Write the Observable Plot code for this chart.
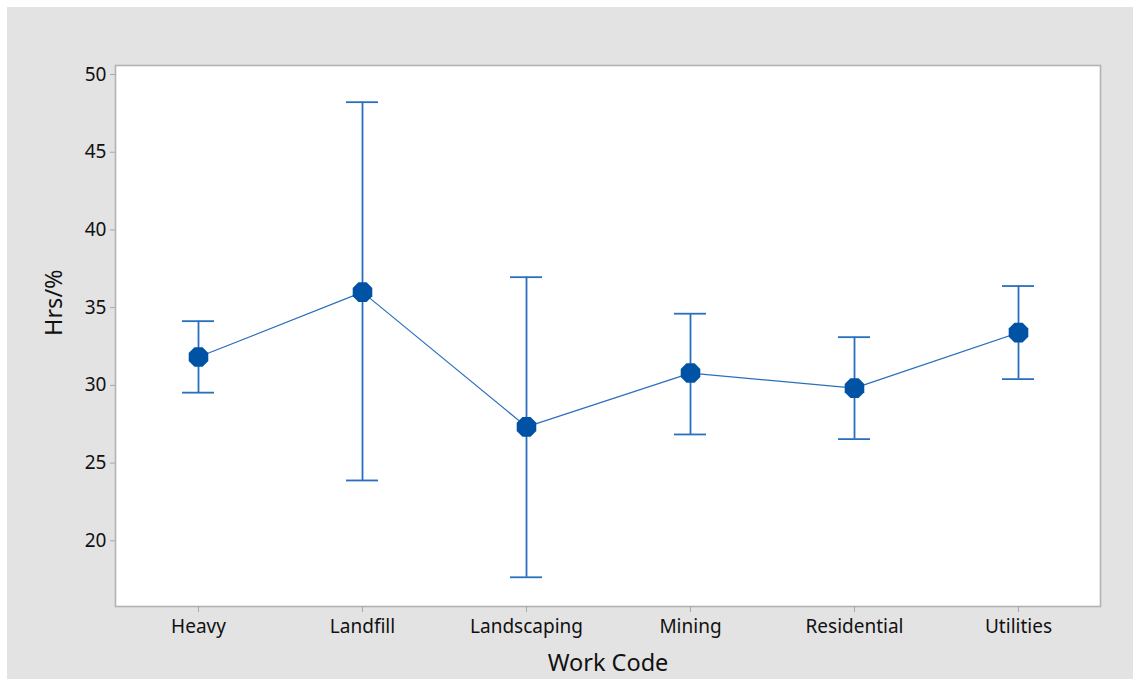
<!DOCTYPE html>
<html>
<head>
<meta charset="utf-8">
<script src="https://cdn.jsdelivr.net/npm/d3@7"></script>
<script src="https://cdn.jsdelivr.net/npm/@observablehq/plot@0.6"></script>
<style>
  html, body { margin: 0; padding: 0; background: #ffffff; }
  #panel { position: absolute; left: 7px; top: 7px; width: 1126px; height: 672px; background: #e3e3e3; }
  #chart { position: absolute; left: 0; top: 0; }
</style>
</head>
<body>
<div id="panel"></div>
<div id="chart"></div>
<script>
// Work codes on the horizontal axis
const categories = ["Heavy", "Landfill", "Landscaping", "Mining", "Residential", "Utilities"];
// Mean Hrs/% per work code, with the lower and upper interval bounds
const means = [31.82, 36.0, 27.33, 30.79, 29.82, 33.39];
const lower = [29.53, 23.88, 17.65, 26.84, 26.54, 30.4];
const upper = [34.13, 48.22, 36.96, 34.61, 33.1, 36.39];
// Y axis tick values
const yTicks = [20, 25, 30, 35, 40, 45, 50];

const rows = categories.map((c, i) => ({code: c, mean: means[i], lo: lower[i], hi: upper[i]}));

const lineBlue = "#2a6fbd";
const markerBlue = "#0052a5";
const ink = "#111111";

// Flat-topped octagon marker
const octagon = {
  draw(context, size) {
    const r = Math.sqrt(size / Math.PI) * 1.06;
    for (let k = 0; k < 8; k++) {
      const a = Math.PI / 8 + k * Math.PI / 4;
      const x = r * Math.cos(a), y = r * Math.sin(a);
      if (k === 0) context.moveTo(x, y); else context.lineTo(x, y);
    }
    context.closePath();
  }
};

const chart = Plot.plot({
  width: 1133,
  height: 679,
  marginLeft: 115,
  marginRight: 33,
  marginTop: 65,
  marginBottom: 73,
  style: {background: "transparent", fontFamily: "'Noto Sans', sans-serif", color: ink},
  x: {type: "band", domain: categories, paddingInner: 0.805, paddingOuter: 0.4025},
  y: {domain: [15.77, 50.58]},
  marks: [
    Plot.frame({fill: "white", stroke: "#b2b2b2", strokeWidth: 1.6}),
    Plot.axisY({ticks: yTicks, tickSize: 5, tickPadding: 4, stroke: "#a8a8a8", fill: ink, fontSize: 19, label: null}),
    Plot.axisX({tickSize: 6, tickPadding: 7, stroke: "#a8a8a8", fill: ink, fontSize: 19, label: null}),
    Plot.text(["Work Code"], {frameAnchor: "bottom", dy: 64, fontSize: 23.5, fill: ink}),
    Plot.text(["Hrs/%"], {frameAnchor: "left", rotate: -90, dx: -61, fontSize: 23.5, fill: ink}),
    Plot.ruleX(rows, {x: "code", y1: "lo", y2: "hi", stroke: lineBlue, strokeWidth: 1.8}),
    Plot.tickY(rows, {x: "code", y: "hi", stroke: lineBlue, strokeWidth: 1.8}),
    Plot.tickY(rows, {x: "code", y: "lo", stroke: lineBlue, strokeWidth: 1.8}),
    Plot.line(rows, {x: "code", y: "mean", stroke: lineBlue, strokeWidth: 1.2}),
    Plot.dot(rows, {x: "code", y: "mean", r: 10, symbol: octagon, fill: markerBlue, stroke: "none"})
  ]
});

document.getElementById("chart").appendChild(chart);
</script>
</body>
</html>
